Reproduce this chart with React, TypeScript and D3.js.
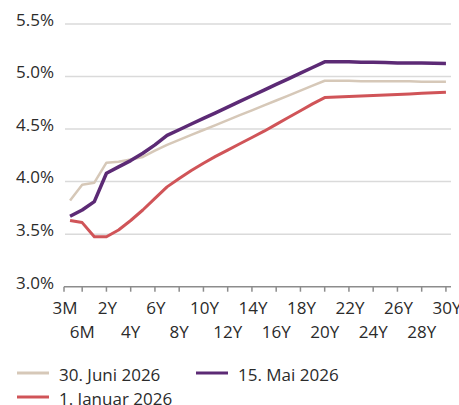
import React from "react";
import * as d3 from "d3";

const categories = ["3M","6M","1Y","2Y","3Y","4Y","5Y","6Y","7Y","8Y","9Y","10Y","11Y","12Y","13Y","14Y","15Y","16Y","17Y","18Y","19Y","20Y","21Y","22Y","23Y","24Y","25Y","26Y","27Y","28Y","29Y","30Y"];

const juni2026 = [3.82,3.97,3.99,4.18,4.19,4.21,4.235,4.295,4.35,4.397,4.444,4.491,4.538,4.585,4.632,4.678,4.725,4.772,4.819,4.866,4.913,4.96,4.96,4.96,4.955,4.955,4.955,4.955,4.955,4.95,4.95,4.95];
const mai2026 = [3.67,3.73,3.81,4.08,4.14,4.20,4.27,4.35,4.44,4.494,4.548,4.602,4.655,4.709,4.763,4.817,4.871,4.925,4.978,5.032,5.086,5.14,5.14,5.14,5.137,5.135,5.133,5.13,5.13,5.128,5.126,5.125];
const januar2026 = [3.63,3.61,3.475,3.475,3.54,3.63,3.73,3.84,3.95,4.03,4.105,4.175,4.24,4.30,4.36,4.42,4.48,4.545,4.61,4.675,4.74,4.80,4.805,4.81,4.815,4.82,4.825,4.83,4.835,4.84,4.845,4.85];

const yTicks = [3.0, 3.5, 4.0, 4.5, 5.0, 5.5];
const topLabels = ["3M","2Y","6Y","10Y","14Y","18Y","22Y","26Y","30Y"];
const bottomLabels = ["6M","4Y","8Y","12Y","16Y","20Y","24Y","28Y"];

const series = [
  { name: "30. Juni 2026", values: juni2026, color: "#d6c8b8", width: 2.5 },
  { name: "1. Januar 2026", values: januar2026, color: "#d05458", width: 3 },
  { name: "15. Mai 2026", values: mai2026, color: "#5c2a75", width: 3.5 },
];

const legendItems = [
  { name: "30. Juni 2026", color: "#d6c8b8", col: 0, row: 0 },
  { name: "15. Mai 2026", color: "#5c2a75", col: 1, row: 0 },
  { name: "1. Januar 2026", color: "#d05458", col: 0, row: 1 },
];

const W = 459, H = 405;
const FONT = "'Open Sans', sans-serif";
const TEXT = "#2b2b2b";

export default function App() {
  const x = d3.scalePoint<string>().domain(categories).range([64, 452]).padding(0.5);
  const y = d3.scaleLinear().domain([3.0, 5.5]).range([286.7, 24]);
  const line = d3.line<number>()
    .x((_, i) => x(categories[i]) as number)
    .y((d) => y(d));

  const tickX = (c: string) => (c === "3M" ? x.range()[0] : (x(c) as number));
  const tickCats = ["3M", ...categories.filter((c) => c !== "3M" && (topLabels.includes(c) || bottomLabels.includes(c)))];
  const x0 = x.range()[0];
  const x1 = 451;

  return (
    <svg width={W} height={H} style={{ position: "absolute", left: 0, top: 0, background: "#fff" }}>
      {yTicks.filter((t) => t > 3.0).map((t) => (
        <line key={t} x1={x0 + 1} x2={x1} y1={y(t)} y2={y(t)} stroke="#dadada" strokeWidth={1.5} />
      ))}
      {yTicks.map((t) => (
        <text key={"l" + t} x={54} y={y(t) + 1.8} textAnchor="end" fontFamily={FONT} fontSize={17} fill={TEXT}>
          {t.toFixed(1) + "%"}
        </text>
      ))}
      <line x1={x0} x2={x1} y1={y(3.0)} y2={y(3.0)} stroke="#8c8c8c" strokeWidth={1.5} />
      {tickCats.map((c) => (
        <line key={"t" + c} x1={tickX(c)} x2={tickX(c)} y1={y(3.0)} y2={y(3.0) + 5} stroke="#8c8c8c" strokeWidth={1.5} />
      ))}
      {topLabels.map((c) => (
        <text key={"tl" + c} x={tickX(c) + 1} y={313.5} textAnchor="middle" fontFamily={FONT} fontSize={17} fill={TEXT}>{c}</text>
      ))}
      {bottomLabels.map((c) => (
        <text key={"bl" + c} x={tickX(c)} y={337.5} textAnchor="middle" fontFamily={FONT} fontSize={17} fill={TEXT}>{c}</text>
      ))}
      {series.map((s) => (
        <path key={s.name} d={line(s.values) || ""} fill="none" stroke={s.color} strokeWidth={s.width} strokeLinejoin="round" />
      ))}
      {legendItems.map((l) => {
        const lx = 17 + l.col * 179;
        const ly = 373 + l.row * 24;
        return (
          <g key={l.name}>
            <line x1={lx} x2={lx + 32} y1={ly} y2={ly} stroke={l.color} strokeWidth={3} />
            <text x={lx + 42} y={ly + 7.5} fontFamily={FONT} fontSize={17} fill={TEXT}>{l.name}</text>
          </g>
        );
      })}
    </svg>
  );
}
